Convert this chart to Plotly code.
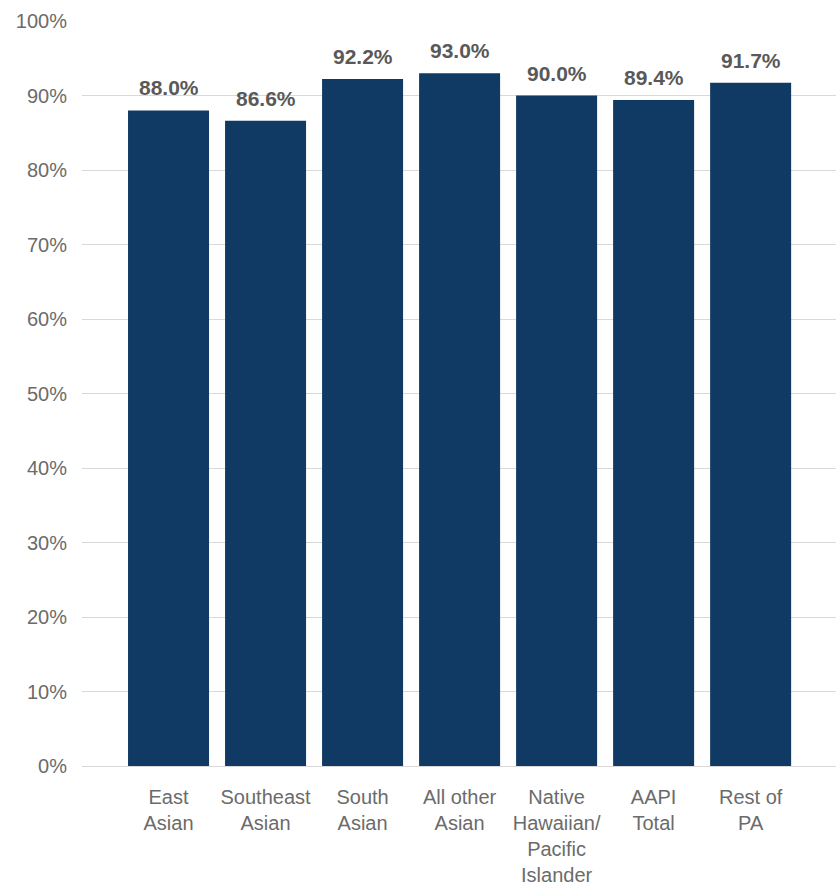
import plotly.graph_objects as go

# Category labels (line breaks as shown on the axis)
categories = [
    "East<br>Asian",
    "Southeast<br>Asian",
    "South<br>Asian",
    "All other<br>Asian",
    "Native<br>Hawaiian/<br>Pacific<br>Islander",
    "AAPI<br>Total",
    "Rest of<br>PA",
]
values = [88.0, 86.6, 92.2, 93.0, 90.0, 89.4, 91.7]
y_ticks = [0, 10, 20, 30, 40, 50, 60, 70, 80, 90, 100]
y_tick_labels = [f"{v}%" for v in y_ticks]

BAR_COLOR = "#103a63"
GRID_COLOR = "#d9d9d9"
TEXT_GRAY = "#6b6b6b"
LABEL_GRAY = "#595959"
FONT = "Liberation Sans, Arial, Helvetica, sans-serif"

x_pos = list(range(len(categories)))

fig = go.Figure(
    go.Bar(
        x=x_pos,
        y=values,
        marker=dict(color=BAR_COLOR, line=dict(width=0)),
        hoverinfo="skip",
    )
)

# Value labels sit a little above each bar
for xi, v in zip(x_pos, values):
    fig.add_annotation(
        x=xi,
        y=v,
        text=f"{v:.1f}%",
        showarrow=False,
        yanchor="bottom",
        yshift=9,
        font=dict(family=FONT, size=21, color=LABEL_GRAY, weight="bold"),
    )

fig.update_layout(
    width=836,
    height=890,
    margin=dict(l=82, r=0, t=21, b=124),
    paper_bgcolor="white",
    plot_bgcolor="white",
    bargap=0.165,
    showlegend=False,
    font=dict(family=FONT, color=TEXT_GRAY),
)

fig.update_xaxes(
    range=[-0.892, 6.88],
    tickmode="array",
    tickvals=x_pos,
    ticktext=categories,
    tickfont=dict(family=FONT, size=20, color=TEXT_GRAY),
    showgrid=False,
    showline=False,
    zeroline=False,
    ticks="",
    ticklabelstandoff=17,
)

fig.update_yaxes(
    range=[0, 100],
    tickmode="array",
    tickvals=y_ticks,
    ticktext=y_tick_labels,
    tickfont=dict(family=FONT, size=20, color=TEXT_GRAY),
    showgrid=True,
    gridcolor=GRID_COLOR,
    gridwidth=1,
    zeroline=True,
    zerolinecolor=GRID_COLOR,
    zerolinewidth=1,
    showline=False,
    ticks="",
    ticklabelstandoff=14,
)

fig.write_html("out.html")
